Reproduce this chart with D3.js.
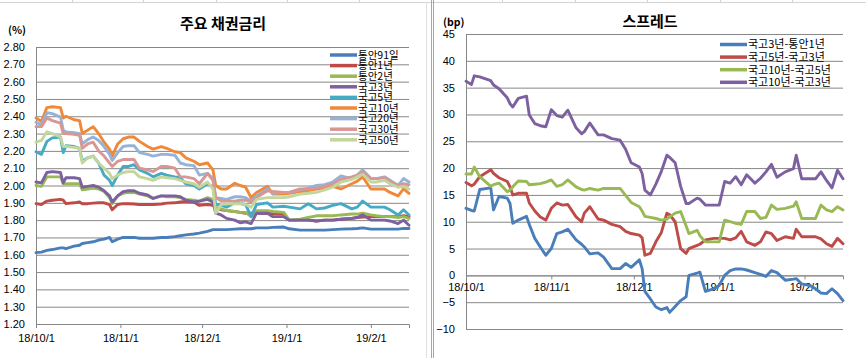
<!DOCTYPE html>
<html><head><meta charset="utf-8">
<script src="https://cdn.jsdelivr.net/npm/d3@7"></script>
<style>
body{margin:0;background:#fff;}
svg{display:block;font-family:"Noto Sans CJK KR","Noto Sans",sans-serif;}
</style></head><body>
<svg id="c" width="866" height="358"></svg>
<script>
// ---------- Left chart: 주요 채권금리 (%) ----------
const leftDates = ["2018-10-01","2018-10-03","2018-10-05","2018-10-07","2018-10-10","2018-10-11","2018-10-12","2018-10-15","2018-10-17","2018-10-18","2018-10-20","2018-10-22","2018-10-24","2018-10-26","2018-10-28","2018-10-29","2018-10-31",
"2018-11-02","2018-11-04","2018-11-06","2018-11-08","2018-11-11","2018-11-13","2018-11-16","2018-11-18","2018-11-21","2018-11-23","2018-11-25","2018-11-28","2018-11-30",
"2018-12-03","2018-12-05","2018-12-06","2018-12-08","2018-12-10","2018-12-13","2018-12-15","2018-12-17","2018-12-19","2018-12-21","2018-12-25","2018-12-27","2018-12-31",
"2019-01-02","2019-01-06","2019-01-09","2019-01-12","2019-01-15","2019-01-18","2019-01-21","2019-01-25","2019-01-27","2019-01-29",
"2019-02-01","2019-02-03","2019-02-06","2019-02-08","2019-02-11","2019-02-13","2019-02-15"];

const leftNames = ["통안91일","통안1년","통안2년","국고3년","국고5년","국고10년","국고20년","국고30년","국고50년"];
const leftColors = ["#4A7EBB","#BE4B48","#98B954","#7D60A0","#46AAC5","#F0883A","#95B3D7","#D99694","#C3D69B"];

const msb91d = [1.612,1.615,1.625,1.63,1.64,1.64,1.635,1.65,1.655,1.665,1.67,1.675,1.685,1.69,1.70,1.675,1.69,
 1.70,1.70,1.70,1.695,1.695,1.695,1.70,1.70,1.705,1.71,1.715,1.72,1.725,
 1.735,1.745,1.745,1.745,1.745,1.748,1.75,1.75,1.75,1.755,1.755,1.758,1.76,
 1.75,1.742,1.742,1.742,1.742,1.745,1.748,1.75,1.752,1.755,
 1.748,1.748,1.748,1.748,1.748,1.752,1.752];
const msb1y = [1.895,1.89,1.91,1.915,1.92,1.915,1.895,1.90,1.905,1.895,1.895,1.898,1.90,1.90,1.89,1.86,1.89,
 1.895,1.895,1.893,1.89,1.89,1.89,1.893,1.898,1.90,1.905,1.908,1.905,1.885,
 1.89,1.885,1.87,1.86,1.855,1.85,1.845,1.84,1.84,1.84,1.838,1.838,1.835,
 1.80,1.80,1.80,1.795,1.80,1.80,1.805,1.81,1.815,1.818,
 1.82,1.82,1.82,1.82,1.82,1.825,1.82];
const msb2y = [2.00,1.995,2.05,2.05,2.05,2.01,2.01,2.01,2.01,1.975,1.98,1.985,1.98,1.965,1.93,1.895,1.94,
 1.955,1.96,1.96,1.95,1.94,1.925,1.94,1.935,1.935,1.93,1.92,1.915,1.91,
 1.93,1.92,1.87,1.865,1.855,1.85,1.845,1.845,1.82,1.855,1.855,1.85,1.845,
 1.80,1.805,1.815,1.825,1.825,1.825,1.83,1.835,1.835,1.84,
 1.83,1.825,1.82,1.82,1.815,1.82,1.81];
const ktb3y = [2.02,2.015,2.075,2.08,2.075,2.015,2.045,2.045,2.04,1.99,1.995,2.00,1.99,1.97,1.94,1.905,1.94,
 1.965,1.97,1.97,1.955,1.945,1.925,1.94,1.94,1.94,1.935,1.915,1.905,1.91,
 1.92,1.905,1.84,1.83,1.81,1.80,1.785,1.79,1.78,1.84,1.84,1.82,1.82,
 1.80,1.80,1.80,1.795,1.80,1.80,1.805,1.81,1.815,1.83,
 1.80,1.80,1.80,1.795,1.78,1.80,1.77];
const ktb5y = [2.195,2.18,2.255,2.275,2.28,2.19,2.23,2.225,2.215,2.14,2.16,2.17,2.13,2.06,2.03,2.00,2.06,
 2.11,2.11,2.12,2.09,2.07,2.05,2.07,2.06,2.05,2.045,2.01,2.00,1.98,
 2.01,1.99,1.89,1.885,1.875,1.90,1.895,1.89,1.82,1.89,1.90,1.875,1.88,
 1.875,1.865,1.895,1.865,1.87,1.885,1.895,1.865,1.875,1.91,
 1.875,1.875,1.875,1.86,1.83,1.86,1.83];
const ktb10y = [2.39,2.37,2.45,2.455,2.45,2.39,2.40,2.38,2.375,2.30,2.32,2.34,2.30,2.25,2.21,2.17,2.24,
 2.27,2.28,2.28,2.255,2.225,2.21,2.225,2.215,2.195,2.19,2.16,2.14,2.12,
 2.13,2.09,2.00,1.98,1.98,2.013,2.00,1.99,1.93,1.96,1.995,1.95,1.95,
 1.955,1.965,1.97,1.98,1.985,1.995,1.98,2.01,2.025,2.05,
 1.98,1.98,1.98,1.96,1.94,1.98,1.955];
const ktb20y = [2.365,2.35,2.42,2.415,2.395,2.32,2.31,2.305,2.30,2.24,2.265,2.28,2.26,2.225,2.18,2.145,2.19,
 2.225,2.23,2.23,2.19,2.18,2.17,2.18,2.18,2.175,2.13,2.12,2.115,2.06,
 2.07,2.04,1.93,1.925,1.92,1.935,1.935,1.93,1.91,1.94,1.98,1.955,1.96,
 1.96,1.975,1.985,2.00,2.005,2.02,2.055,2.04,2.06,2.09,
 2.04,2.04,2.05,2.03,2.00,2.04,2.02];
const ktb30y = [2.34,2.34,2.39,2.375,2.36,2.30,2.30,2.295,2.29,2.215,2.24,2.25,2.20,2.17,2.13,2.11,2.14,
 2.15,2.15,2.15,2.10,2.09,2.08,2.11,2.11,2.10,2.05,2.05,2.04,2.01,
 2.07,2.03,1.93,1.91,1.91,1.91,1.915,1.915,1.905,1.93,1.97,1.965,1.96,
 1.96,1.98,1.98,1.985,1.995,2.01,2.035,2.05,2.06,2.08,
 2.04,2.04,2.045,2.025,2.00,2.01,2.005];
const ktb50y = [2.25,2.26,2.31,2.30,2.28,2.225,2.225,2.22,2.215,2.13,2.16,2.17,2.13,2.10,2.07,2.04,2.06,
 2.075,2.08,2.08,2.05,2.04,2.03,2.05,2.045,2.04,2.03,2.02,2.01,1.99,
 2.02,1.98,1.84,1.89,1.895,1.895,1.895,1.89,1.875,1.92,1.93,1.93,1.93,
 1.935,1.95,1.955,1.96,1.975,1.99,2.02,2.035,2.05,2.065,
 2.02,2.02,2.03,2.01,1.99,1.995,1.98];
const leftSeries = [msb91d,msb1y,msb2y,ktb3y,ktb5y,ktb10y,ktb20y,ktb30y,ktb50y];
const leftYTicks = [1.2,1.3,1.4,1.5,1.6,1.7,1.8,1.9,2.0,2.1,2.2,2.3,2.4,2.5,2.6,2.7,2.8];

// ---------- Right chart: 스프레드 (bp) ----------
const rightDates = ["2018-10-01","2018-10-03","2018-10-04","2018-10-06","2018-10-10","2018-10-11","2018-10-13","2018-10-16","2018-10-17","2018-10-18","2018-10-20","2018-10-23","2018-10-24","2018-10-26","2018-10-28","2018-10-30",
"2018-11-01","2018-11-03","2018-11-05","2018-11-07","2018-11-10","2018-11-12","2018-11-13","2018-11-15","2018-11-18","2018-11-20","2018-11-23","2018-11-26","2018-11-28","2018-11-30",
"2018-12-03","2018-12-04","2018-12-05","2018-12-07","2018-12-09","2018-12-11","2018-12-13","2018-12-14","2018-12-16","2018-12-18","2018-12-20","2018-12-21","2018-12-24","2018-12-25","2018-12-27","2018-12-30",
"2019-01-01","2019-01-03","2019-01-05","2019-01-07","2019-01-09","2019-01-11","2019-01-14","2019-01-16","2019-01-18","2019-01-20","2019-01-22","2019-01-25","2019-01-28","2019-01-29","2019-01-31",
"2019-02-03","2019-02-05","2019-02-07","2019-02-09","2019-02-11","2019-02-13","2019-02-15"];
const rightNames = ["국고3년-통안1년","국고5년-국고3년","국고10년-국고5년","국고10년-국고3년"];
const rightColors = ["#4A7EBB","#BE4B48","#98B954","#7D60A0"];
const sp3y1y = [12.5,12.1,12.0,16.0,16.3,12.2,14.7,14.4,13.4,9.7,10.3,11.0,9.5,6.9,5.3,3.75,
 5.0,7.8,8.1,8.6,6.6,5.8,5.3,4.0,4.2,3.4,1.25,1.25,2.2,1.5,
 2.9,1.25,-3.0,-4.4,-5.9,-6.4,-6.0,-6.9,-5.8,-4.7,-4.0,0.0,0.4,0.6,-3.0,-2.5,
 -1.9,0.0,0.9,1.2,1.2,1.0,0.5,0.2,-0.2,0.9,0.5,-0.9,-0.7,-0.6,-1.6,
 -1.9,-2.5,-3.3,-3.4,-2.5,-3.4,-4.7];
const sp5y3y = [17.3,16.7,17.0,18.4,19.7,19.0,18.2,17.5,16.5,15.0,15.3,15.3,13.5,12.0,10.9,10.3,
 12.5,13.5,13.1,13.2,10.9,10.0,11.6,12.8,10.5,10.3,9.5,9.1,8.2,7.8,
 7.5,7.0,3.75,4.1,6.25,8.0,11.6,11.3,10.0,5.0,4.1,5.0,5.6,5.8,6.6,6.9,
 6.9,6.9,6.6,7.0,8.2,6.25,5.6,6.25,8.1,7.8,6.5,7.2,6.9,8.6,7.2,
 7.2,7.2,6.8,5.9,5.4,6.9,5.9];
const sp10y5y = [18.9,18.9,20.2,18.4,16.6,16.9,17.2,15.6,15.9,16.5,17.6,17.5,16.9,17.0,17.1,17.4,
 17.8,16.6,16.9,17.8,16.5,16.0,15.9,16.2,15.9,16.2,16.2,16.2,14.9,13.6,
 12.8,12.0,11.0,10.8,10.6,10.3,10.5,10.9,11.6,11.9,9.2,7.8,8.4,7.4,6.25,6.25,
 6.25,10.3,10.0,9.7,9.5,11.9,11.9,10.6,10.8,13.1,12.3,12.5,12.9,13.7,10.6,
 10.6,10.6,13.1,12.2,11.9,12.8,12.2];
const sp10y3y = [36.2,35.6,37.2,37.0,36.3,35.5,34.8,33.1,32.0,31.4,33.0,33.4,29.9,28.3,27.9,27.7,
 30.9,29.8,29.5,30.8,27.5,26.4,26.8,28.4,26.2,26.2,25.5,25.2,23.5,21.0,
 20.2,19.0,15.9,15.0,17.0,19.4,22.4,22.0,21.0,16.6,13.4,13.4,14.4,14.2,13.1,13.1,
 13.1,17.5,17.2,18.4,16.9,18.75,17.2,18.1,19.3,20.7,18.3,19.3,19.9,22.4,18.0,
 18.0,18.0,19.3,17.7,16.3,19.6,18.0];
const rightSeries = [sp3y1y,sp5y3y,sp10y5y,sp10y3y];
const rightYTicks = [-10,-5,0,5,10,15,20,25,30,35,40,45];

// ---------- shared x ticks ----------
const monthTicks = ["2018-10-01","2018-11-01","2018-12-01","2019-01-01","2019-02-01"];
const monthLabels = ["18/10/1","18/11/1","18/12/1","19/1/1","19/2/1"];
const xDomain = ["2018-10-01","2019-02-15"];

const parse = d3.timeParse("%Y-%m-%d");
const svg = d3.select("#c");
const GRID = "#878787";

// spreadsheet background remnants
svg.append("line").attr("x1",0).attr("x2",866).attr("y1",2.5).attr("y2",2.5).attr("stroke","#d4d4d4");
[72,143,216,287,359,502,575,647,720,792].forEach(x=>{
  svg.append("line").attr("x1",x+0.5).attr("x2",x+0.5).attr("y1",0).attr("y2",3).attr("stroke","#d4d4d4");
});
svg.append("line").attr("x1",426.5).attr("x2",426.5).attr("y1",3).attr("y2",358).attr("stroke","#e0e0e0");
svg.append("line").attr("x1",431.5).attr("x2",431.5).attr("y1",0).attr("y2",358).attr("stroke","#a6a6a6");
svg.append("line").attr("x1",433.5).attr("x2",433.5).attr("y1",0).attr("y2",358).attr("stroke","#a6a6a6");

function drawChart(o){
  const x = d3.scaleTime().domain(xDomain.map(parse)).range([o.x0,o.x1]);
  const y = d3.scaleLinear().domain(o.yDomain).range([o.y1,o.y0]);
  const g = svg.append("g");
  // gridlines
  const grid = g.append("g").attr("transform",`translate(${o.x0},0)`)
    .call(d3.axisLeft(y).tickValues(o.yTicks).tickSize(-(o.x1-o.x0)).tickFormat(""));
  grid.select(".domain").remove();
  grid.selectAll("line").attr("stroke",GRID).attr("stroke-width",1);
  // y labels
  const ya = g.append("g").attr("transform",`translate(${o.x0},0)`)
    .call(d3.axisLeft(y).tickValues(o.yTicks).tickFormat(o.yFmt).tickSize(0).tickPadding(11));
  ya.select(".domain").remove();
  ya.selectAll("text").attr("font-size",11).attr("fill","#000");
  // y axis line
  g.append("line").attr("x1",o.x0+0.5).attr("x2",o.x0+0.5).attr("y1",o.y0).attr("y2",o.y1).attr("stroke",GRID);
  // x axis
  const xa = g.append("g").attr("transform",`translate(0,${y(o.xAxisAt)})`)
    .call(d3.axisBottom(x).tickValues(monthTicks.map(parse)).tickFormat((d,i)=>monthLabels[i]).tickSize(4).tickPadding(o.xPad));
  xa.select(".domain").attr("stroke",GRID);
  xa.selectAll("line").attr("stroke",GRID);
  xa.selectAll("text").attr("font-size",11).attr("fill","#000");
  // series
  const dates = o.dates.map(parse);
  const line = d3.line().x((d,i)=>x(dates[i])).y(d=>y(d));
  o.series.forEach((s,k)=>{
    g.append("path").datum(s).attr("d",line).attr("fill","none")
      .attr("stroke",o.colors[k]).attr("stroke-width",2.9)
      .attr("stroke-linejoin","round").attr("stroke-linecap","round");
  });
  // legend
  o.names.forEach((n,k)=>{
    const ly = o.legY + k*o.legStep;
    g.append("line").attr("x1",o.legX).attr("x2",o.legX+27).attr("y1",ly).attr("y2",ly)
      .attr("stroke",o.colors[k]).attr("stroke-width",3.5);
    g.append("text").attr("x",o.legX+28).attr("y",ly).attr("dy","0.36em")
      .attr("font-size",o.legFont).attr("fill","#000").text(n);
  });
  // title & unit
  g.append("text").attr("x",o.titleX).attr("y",o.titleY).attr("text-anchor","middle")
    .attr("font-size",15).attr("font-weight","bold").text(o.title);
  g.append("text").attr("x",o.unitX).attr("y",o.unitY).attr("font-size",10.5).attr("font-weight","bold").text(o.unit);
}

drawChart({x0:36,x1:409,y0:47,y1:324,yDomain:[1.2,2.8],yTicks:leftYTicks,yFmt:d3.format(".2f"),
  xAxisAt:1.2,xPad:6,dates:leftDates,series:leftSeries,colors:leftColors,names:leftNames,
  legX:330,legY:55,legStep:10.6,legFont:10.5,title:"주요 채권금리",titleX:223,titleY:29,unit:"(%)",unitX:8,unitY:34});

drawChart({x0:466,x1:843,y0:34,y1:329,yDomain:[-10,45],yTicks:rightYTicks,yFmt:d3.format("d"),
  xAxisAt:0,xPad:4,dates:rightDates,series:rightSeries,colors:rightColors,names:rightNames,
  legX:720,legY:44.5,legStep:12.6,legFont:11,title:"스프레드",titleX:650,titleY:27,unit:"(bp)",unitX:443,unitY:26});
</script>
</body></html>
